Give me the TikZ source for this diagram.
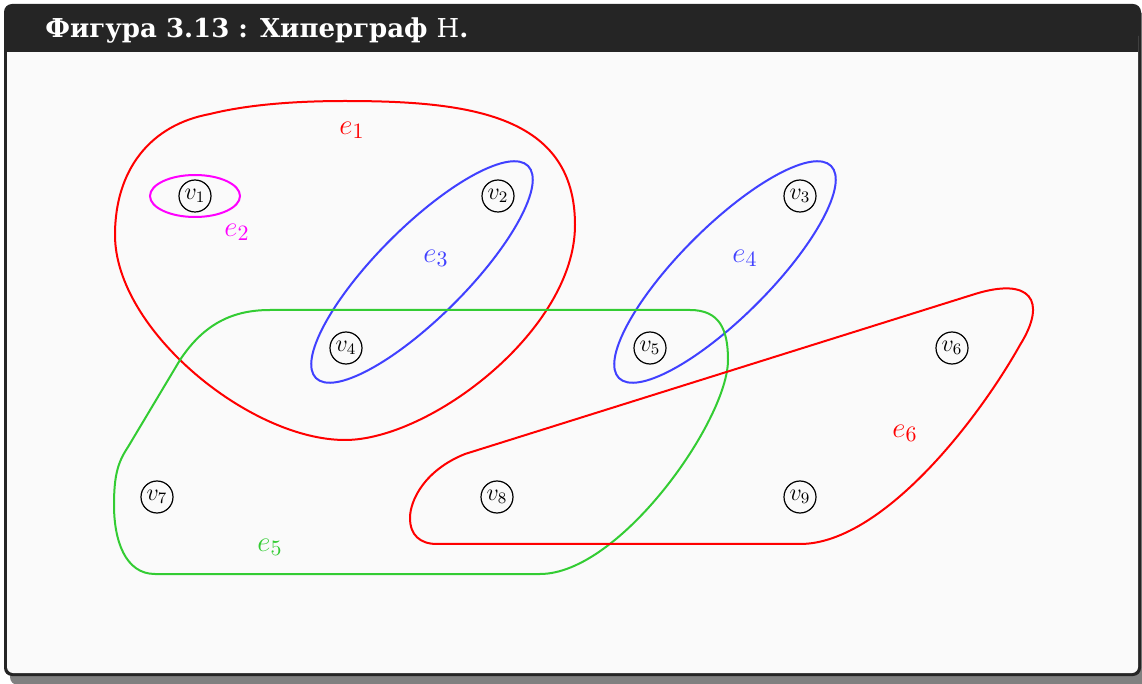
\documentclass[tikz,border=0pt]{standalone}
\usepackage[no-math]{fontspec}
\newfontfamily\titlefont{DejaVu Serif}
\usetikzlibrary{positioning}
\definecolor{framegray}{RGB}{37,37,37}
\definecolor{backgray}{RGB}{250,250,250}
\definecolor{shadowgray}{RGB}{128,128,128}
\definecolor{edgered}{RGB}{255,0,0}
\definecolor{edgemagenta}{RGB}{255,0,255}
\definecolor{edgeblue}{RGB}{64,64,255}
\definecolor{edgegreen}{RGB}{51,204,51}

\begin{document}
\begin{tikzpicture}[x=0.5pt,y=-0.5pt,
  vertex/.style={circle, draw, line width=0.6pt, minimum size=16pt, inner sep=0pt,
                 font=\fontsize{11.5}{13}\selectfont},
  hedge/.style={line width=1pt},
  elabel/.style={font=\fontsize{15}{17}\selectfont}]

\useasboundingbox (0,0) rectangle (1142,684);

%---------------------------------------
% Frame and title bar
%---------------------------------------
\fill[shadowgray, rounded corners=4pt] (10,12) rectangle (1146,685);
\fill[framegray, rounded corners=4pt] (4,4) rectangle (1141,676);
\fill[backgray, rounded corners=3pt] (7,30) rectangle (1138,673);
\fill[framegray] (7,20) rectangle (1138,52);
\node[anchor=base west, inner sep=0pt, text=white,
      font=\titlefont\bfseries\fontsize{13}{15}\selectfont]
  (title) at (45,38) {Фигура 3.13 : Хиперграф {\mdseries H}.};

%---------------------------------------
% Vertices
%---------------------------------------
\node[vertex] (v1) at (195,196) {$v_1$};
\node[vertex] (v2) at (498,196) {$v_2$};
\node[vertex] (v3) at (800,196) {$v_3$};
\node[vertex] (v4) at (346,348) {$v_4$};
\node[vertex] (v5) at (650,348) {$v_5$};
\node[vertex] (v6) at (952,348) {$v_6$};
\node[vertex] (v7) at (157,497) {$v_7$};
\node[vertex] (v8) at (497,497) {$v_8$};
\node[vertex] (v9) at (800,497) {$v_9$};

%---------------------------------------
% Hyperedges
%---------------------------------------
% e1 = {v1, v2, v4}
\draw[hedge, edgered] (345,101)
  .. controls (470,101) and (575,115) .. (575,225)
  .. controls (575,330) and (430,440) .. (345,440)
  .. controls (250,440) and (115,330) .. (115,235)
  .. controls (115,170) and (150,125) .. (210,114)
  .. controls (250,104) and (300,101) .. (345,101) -- cycle;

% e2 = {v1}
\draw[hedge, edgemagenta] (v1.center) ellipse [x radius=22.5pt, y radius=10.5pt];

% e3 = {v2, v4}, e4 = {v3, v5}
\draw[hedge, edgeblue, rotate around={45:(422,272)}]
  (422,272) ellipse [x radius=75pt, y radius=22.5pt];
\draw[hedge, edgeblue, rotate around={45:(725,272)}]
  (725,272) ellipse [x radius=75pt, y radius=22.5pt];

% e5 = {v4, v5, v7, v8}
\draw[hedge, edgegreen] (270,310) -- (690,310)
  .. controls (720,310) and (728,330) .. (728,360)
  .. controls (728,420) and (620,574) .. (540,574) -- (155,574)
  .. controls (125,574) and (114,540) .. (114,505)
  .. controls (114,475) and (118,462) .. (128,447) -- (180,360)
  .. controls (205,322) and (235,310) .. (270,310) -- cycle;

% e6 = {v6, v8, v9}
\draw[hedge, edgered] (437,544) -- (800,544)
  .. controls (880,544) and (975,425) .. (1020,345)
  .. controls (1048,300) and (1030,277) .. (975,294) -- (465,454)
  .. controls (425,470) and (410,500) .. (410,518)
  .. controls (410,535) and (420,544) .. (437,544) -- cycle;

% Edge labels
\node[elabel, text=edgered] (e1) at (352,130) {$e_1$};
\node[elabel, text=edgemagenta] (e2) at (237,232) {$e_2$};
\node[elabel, text=edgeblue] (e3) at (436,258) {$e_3$};
\node[elabel, text=edgeblue] (e4) at (745,258) {$e_4$};
\node[elabel, text=edgegreen] (e5) at (270,547) {$e_5$};
\node[elabel, text=edgered] (e6) at (905,433) {$e_6$};

\end{tikzpicture}
\end{document}
